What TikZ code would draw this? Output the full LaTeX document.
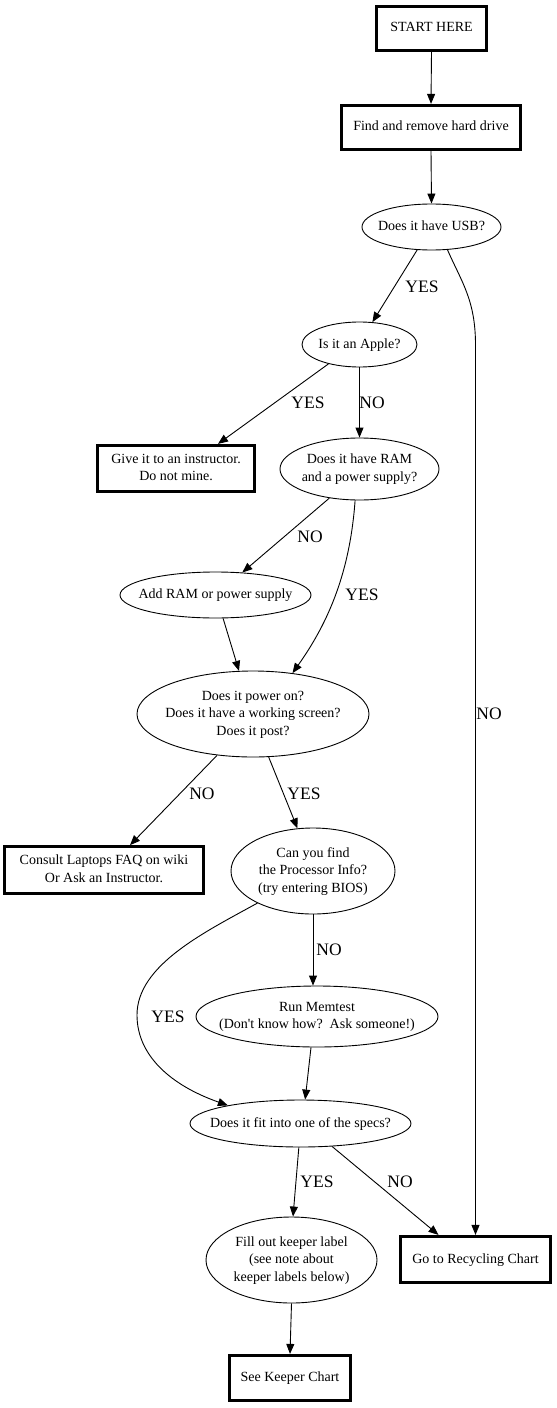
\documentclass[tikz,border=0pt]{standalone}
\usepackage{fontspec}
\setmainfont{Liberation Serif}
\newfontfamily\plainserif{Liberation Serif}
\usetikzlibrary{shapes.geometric,arrows.meta}
\newcommand{\zbox}[1]{\vbox to 0pt{\vss\hbox to 0pt{\hss\begin{tabular}{@{}c@{}}#1\end{tabular}\hss}\vss}}
\begin{document}
\begin{tikzpicture}[x=1bp,y=-1bp,
  bx/.style={draw, rectangle, line width=2.7bp, inner sep=0pt, font=\fontsize{14bp}{17.5bp}\selectfont},
  ell/.style={draw, ellipse, line width=0.9bp, inner sep=0pt, font=\fontsize{14bp}{17.5bp}\selectfont},
  conn/.style={line width=0.9bp, -{Triangle[length=10bp,width=8bp]}},
  lbl/.style={inner sep=0pt, font=\fontsize{17.5bp}{20bp}\selectfont}]
\useasboundingbox (0,0) rectangle (557,1408);

\node[bx, minimum width=110.5bp, minimum height=44.5bp] (start) at (431.5,28.5) {\zbox{START HERE}};
\node[bx, minimum width=179.5bp, minimum height=44.5bp] (find) at (431,127.5) {\zbox{Find and remove hard drive}};
\node[ell, minimum width=139bp, minimum height=46bp] (usb) at (431.5,227) {\zbox{Does it have USB?}};
\node[ell, minimum width=115bp, minimum height=45bp] (apple) at (359.5,344.5) {\zbox{Is it an Apple?}};
\node[bx, minimum width=157.5bp, minimum height=46.5bp] (give) at (176,468.5) {\zbox{Give it to an instructor.\\Do not mine.}};
\node[ell, minimum width=159bp, minimum height=62bp] (ram) at (359.5,469) {\zbox{Does it have RAM\\and a power supply?}};
\node[ell, minimum width=191bp, minimum height=46bp] (add) at (215.5,595) {\zbox{Add RAM or power supply}};
\node[ell, minimum width=232bp, minimum height=86bp] (power) at (253,714) {\zbox{Does it power on?\\Does it have a working screen?\\Does it post?}};
\node[bx, minimum width=199bp, minimum height=47bp] (consult) at (104,870) {\zbox{Consult Laptops FAQ on wiki\\Or Ask an Instructor.}};
\node[ell, minimum width=164bp, minimum height=86bp] (can) at (313,871) {\zbox{Can you find\\the Processor Info?\\(try entering BIOS)}};
\node[ell, minimum width=242bp, minimum height=61bp] (mem) at (317,1016.5) {\zbox{Run Memtest\\{\plainserif (Don't know how?\ \ Ask someone!)}}};
\node[ell, minimum width=221bp, minimum height=47bp] (fit) at (300.5,1123.5) {\zbox{Does it fit into one of the specs?}};
\node[ell, minimum width=171bp, minimum height=86bp] (fill) at (291.5,1260) {\zbox{Fill out keeper label\\(see note about\\keeper labels below)}};
\node[bx, minimum width=150.5bp, minimum height=46.5bp] (rec) at (475.5,1259.5) {\zbox{Go to Recycling Chart}};
\node[bx, minimum width=121.5bp, minimum height=45.5bp] (keeper) at (290,1378) {\zbox{See Keeper Chart}};

\draw[conn] (start.south) -- (find.north);
\draw[conn] (find.south) -- (usb.north);
\draw[conn] (usb.-122) -- (apple.60);
\draw[conn] (usb.-55) .. controls +(14,32) and +(0,-45) .. ([yshift=890bp]rec.north) -- (rec.north);
\draw[conn] (apple.-148) -- ([xshift=42bp]give.north);
\draw[conn] (apple.south) -- (ram.north);
\draw[conn] (ram.-136) -- (add.40);
\draw[conn] (ram.-98) .. controls +(-5,70) and +(37,-52) .. (power.46);
\draw[conn] (add.-72) -- (power.108);
\draw[conn] (power.-131) -- ([xshift=26bp]consult.north);
\draw[conn] (power.-70) -- (can.110);
\draw[conn] (can.south) -- (can.south |- mem.north);
\draw[conn] (can.-150) .. controls (205,932) and (137,965) .. (137,1015) .. controls (137,1055) and (170,1085) .. (fit.166);
\draw[conn] (mem.-101) -- (fit.79);
\draw[conn] (fit.-94) -- (fill.88);
\draw[conn] (fit.-36) -- ([xshift=-37bp]rec.north);
\draw[conn] (fill.south) -- (keeper.north);

\node[lbl] (l1) at (422,287) {YES};
\node[lbl] (l2) at (308,403) {YES};
\node[lbl] (l3) at (372,403) {NO};
\node[lbl] (l4) at (310,537) {NO};
\node[lbl] (l5) at (362,595) {YES};
\node[lbl] (l6) at (489,714) {NO};
\node[lbl] (l7) at (202,794) {NO};
\node[lbl] (l8) at (304,794) {YES};
\node[lbl] (l9) at (329,950) {NO};
\node[lbl] (l10) at (168,1017) {YES};
\node[lbl] (l11) at (317,1182) {YES};
\node[lbl] (l12) at (400,1182) {NO};
\end{tikzpicture}
\end{document}
